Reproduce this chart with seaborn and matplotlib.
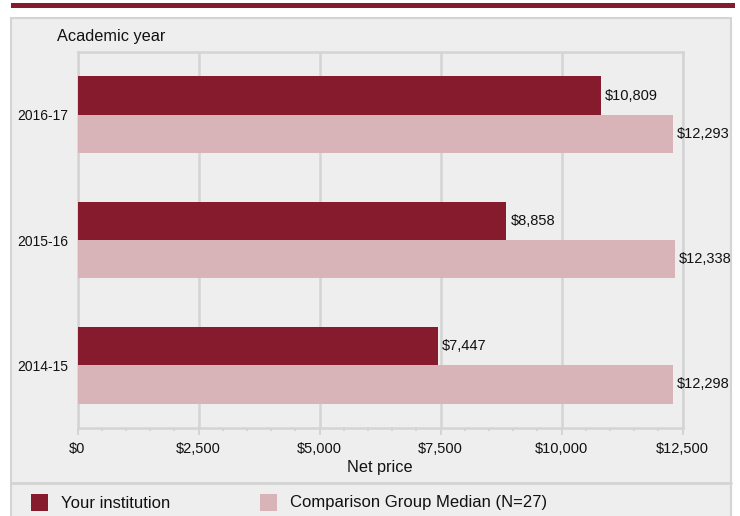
import matplotlib
matplotlib.use("Agg")
import matplotlib.pyplot as plt
import seaborn as sns
import pandas as pd
from matplotlib.patches import Rectangle
from matplotlib.ticker import MultipleLocator, FuncFormatter

# data
years = ["2016-17", "2015-16", "2014-15"]
institution = [10809, 8858, 7447]
comparison = [12293, 12338, 12298]
groups = ["Your institution", "Comparison Group Median (N=27)"]
colors = ["#861b2d", "#d8b3b8"]
xticks = [0, 2500, 5000, 7500, 10000, 12500]

df = pd.DataFrame({
    "year": years * 2,
    "price": institution + comparison,
    "group": [groups[0]] * 3 + [groups[1]] * 3,
})

W, H = 740, 516
sns.set_theme(style="white")
plt.rcParams["font.family"] = ["Liberation Sans", "DejaVu Sans"]

fig = plt.figure(figsize=(W / 100, H / 100), dpi=100, facecolor="white")

# grey panel and the dark band on top
fig.add_artist(Rectangle((11 / W, -0.01), (731 - 11) / W, (H - 18) / H + 0.01,
                         transform=fig.transFigure, facecolor="#eeeeee",
                         edgecolor="#d4d4d4", linewidth=1.5, zorder=0))
fig.add_artist(Rectangle((11 / W, 1 - 8 / H), (735 - 11) / W, 5 / H,
                         transform=fig.transFigure, facecolor=colors[0],
                         edgecolor="none", zorder=0))
fig.add_artist(plt.Line2D([11 / W, 731 / W], [1 - 482.5 / H, 1 - 482.5 / H],
                          transform=fig.transFigure, color="#d4d4d4", linewidth=2))

ax = fig.add_axes([77.5 / W, (H - 428) / H, (682.7 - 77.5) / W, (428 - 52) / H])
ax.set_facecolor("#eeeeee")

sns.barplot(data=df, y="year", x="price", hue="group", order=years,
            hue_order=groups, palette=colors, width=0.61, gap=0,
            errorbar=None, saturation=1, legend=False, linewidth=0,
            ax=ax, zorder=3)

for cont in ax.containers:
    ax.bar_label(cont, labels=[f"${v:,.0f}" for v in cont.datavalues],
                 padding=3, fontsize=10.5, color="#111111")

ax.set_xlim(0, 12500)
ax.set_ylim(2.5, -0.5)
ax.set_xticks(xticks)
ax.xaxis.set_major_formatter(FuncFormatter(lambda v, p: f"${v:,.0f}"))
ax.xaxis.set_minor_locator(MultipleLocator(500))
ax.grid(axis="x", which="major", color="#d4d4d4", linewidth=1.8, zorder=0)
ax.set_axisbelow(True)
for s in ax.spines.values():
    s.set_color("#d4d4d4")
    s.set_linewidth(1.8)
ax.tick_params(axis="x", which="major", bottom=True, length=5, width=1.2,
               color="#cfcfcf", labelsize=10.5, pad=5, labelcolor="#111111")
ax.tick_params(axis="x", which="minor", bottom=True, length=2.5, width=1.2,
               color="#cfcfcf")
ax.tick_params(axis="y", length=0, labelsize=10, pad=6.5, labelcolor="#111111")
ax.set_ylabel("")
ax.set_xlabel("Net price", fontsize=11.7, color="#111111", labelpad=3)

fig.text(57 / W, 1 - 36 / H, "Academic year", fontsize=11.7, color="#111111",
         ha="left", va="center")

# legend at the bottom of the panel
leg_x = [31, 260]
for lx, name, col in zip(leg_x, groups, colors):
    fig.add_artist(Rectangle((lx / W, 1 - 511 / H), 17 / W, 17.5 / H,
                             transform=fig.transFigure, facecolor=col,
                             edgecolor="none"))
    fig.text((lx + 30) / W, 1 - 503 / H, name, fontsize=12, color="#111111",
             ha="left", va="center")

fig.savefig("out.png", dpi=100, facecolor="white")
